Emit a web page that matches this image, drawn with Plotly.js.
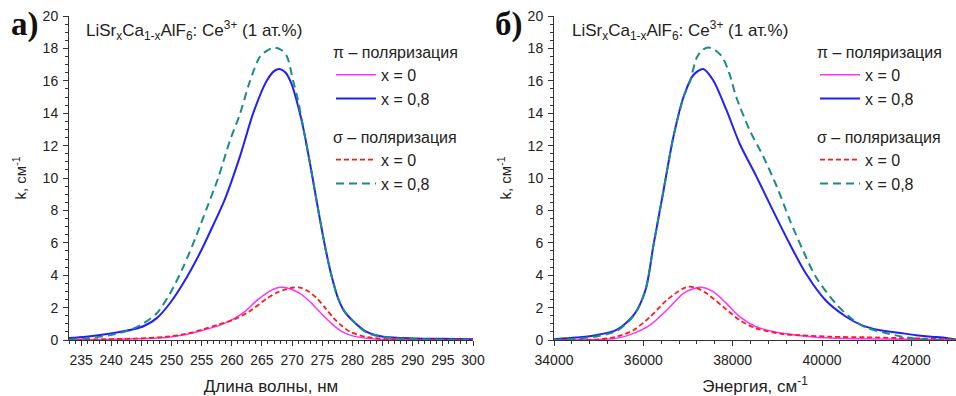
<!DOCTYPE html>
<html>
<head>
<meta charset="utf-8">
<script src="https://cdn.plot.ly/plotly-3.0.1.min.js"></script>
<style>html,body{margin:0;padding:0;background:#fff;}#chart{width:956px;height:396px;}</style>
</head>
<body>
<div id="chart"></div>
<script>
// ---- Panel a): wavelength (nm) ----
const lamPi08 = [233.0,235.85,239.92,243.69,245.52,247.56,249.80,251.94,254.69,256.93,258.86,261.41,263.55,265.79,267.01,267.93,268.94,269.86,270.88,271.90,272.92,273.73,274.54,275.56,276.58,277.60,278.62,280.45,282.39,285.13,290.63,294.91,300];
const kPi08   = [0.12,0.2,0.4,0.66,0.88,1.35,2.3,3.5,5.35,7.1,8.7,11.4,14.0,16.0,16.6,16.73,16.5,15.85,14.6,13.0,11.0,9.3,7.6,5.6,3.9,2.6,1.8,1.05,0.5,0.2,0.1,0.07,0.05];

const lamSig08 = [233.0,235.85,239.92,242.98,245.02,247.56,249.80,251.94,254.18,255.81,257.74,259.68,261.31,262.94,264.67,265.99,267.16,268.23,269.15,270.17,270.98,271.90,272.92,273.73,274.54,275.56,276.58,277.60,278.62,280.45,282.39,285.13,289.82,294.91,300];
const kSig08   = [0.0,0.1,0.3,0.6,0.95,1.65,2.9,4.5,6.5,8.1,10.0,12.3,13.9,15.9,17.5,17.9,18.05,17.9,17.5,16.0,14.8,13.0,11.0,9.3,7.6,5.6,3.9,2.6,1.8,1.05,0.45,0.18,0.06,0.02,0.0];

const lamPi0 = [233.0,238.91,244.00,249.09,252.14,255.20,258.25,260.29,262.33,264.16,265.79,267.21,268.44,269.76,271.29,272.71,274.04,275.46,276.89,278.11,279.64,282.39,285.75,300];
const kPi0   = [0.0,0.03,0.07,0.16,0.32,0.6,0.95,1.3,1.8,2.45,2.9,3.18,3.25,3.15,2.88,2.45,1.95,1.4,0.9,0.55,0.3,0.1,0.03,0.0];

const lamSig0 = [233.0,238.91,244.00,249.09,252.14,255.20,257.74,260.29,262.84,265.79,267.42,268.94,270.27,271.49,272.71,274.04,275.56,276.89,278.32,279.64,282.39,285.75,289.82,300];
const kSig0   = [0.02,0.05,0.09,0.2,0.36,0.65,0.95,1.25,1.75,2.55,2.92,3.12,3.24,3.22,3.0,2.6,1.95,1.35,0.85,0.5,0.18,0.06,0.03,0.02];

// ---- Panel б): energy (cm^-1) ----
const ePi08 = [34000,34500,34900,35400,35800,36050,36230,36450,36670,36900,37120,37340,37560,37860,38160,38530,38900,39270,39640,40080,40530,40900,41300,41710,42100,42450,42700,43000];
const kEPi08 = [0.05,0.15,0.28,0.62,1.6,3.1,5.9,9.2,12.5,15.0,16.36,16.73,16.05,14.2,12.1,10.1,8.0,5.97,4.1,2.45,1.45,0.9,0.6,0.45,0.3,0.2,0.15,0.02];

const eSig08 = [34000,34500,34900,35400,35800,36050,36230,36450,36670,36900,37050,37190,37320,37460,37600,37760,37920,38080,38380,38690,38990,39280,39570,39860,40300,40700,41000,41400,41800,42100,42500,43000];
const kESig08 = [0.0,0.08,0.2,0.55,1.55,3.1,5.9,9.2,12.5,15.0,16.0,17.4,17.9,18.05,17.9,17.5,16.5,15.0,12.96,11.3,9.46,7.4,5.56,3.9,2.27,1.23,0.75,0.45,0.2,0.08,0.02,0.0];

const ePi0 = [34000,35000,35400,35784,36156,36527,36896,37100,37300,37562,37860,38156,38527,39118,39860,40750,42000,43000];
const kEPi0 = [0.0,0.03,0.1,0.41,0.93,1.85,2.88,3.15,3.25,2.98,2.26,1.44,0.82,0.41,0.17,0.08,0.04,0.02];

const eSig0 = [34000,35000,35400,35784,36156,36527,36896,37044,37200,37416,37784,38156,38527,39118,39489,40200,40971,41711,43000];
const kESig0 = [0.0,0.04,0.2,0.62,1.44,2.47,3.19,3.29,3.2,2.88,2.06,1.23,0.72,0.37,0.3,0.2,0.17,0.12,0.05];

const seriesNames = ['x = 0', 'x = 0,8'];
const legendTitles = ['π – поляризация', 'σ – поляризация'];
const panelLabels = ['а)', 'б)'];
const sampleTitle = 'LiSr<sub>x</sub>Ca<sub>1-x</sub>AlF<sub>6</sub>: Ce<sup>3+</sup> (1 ат.%)';
const xTitles = ['Длина волны, нм', 'Энергия, см<sup>-1</sup>'];
const yTitle = 'k, см<sup>-1</sup>';

const W = 956, H = 396;
const FONT = 'Liberation Sans, Arial, sans-serif';
const cMag = '#ff33ff', cBlue = '#1f1fff', cRed = '#ff1a1a', cTeal = '#1a8a8a';

function tr(x, y, name, color, dash, width, xa, ya, leg) {
  return {x: x, y: y, name: name, type: 'scatter', mode: 'lines',
    line: {color: color, width: width, dash: dash, shape: 'spline', smoothing: 0.8},
    xaxis: xa, yaxis: ya, legend: leg, showlegend: true, hoverinfo: 'x+y'};
}

const data = [
  tr(lamPi0, kPi0, seriesNames[0], cMag, 'solid', 1.5, 'x', 'y', 'legend'),
  tr(lamPi08, kPi08, seriesNames[1], cBlue, 'solid', 2, 'x', 'y', 'legend'),
  tr(lamSig0, kSig0, seriesNames[0], cRed, '5px,3px', 1.8, 'x', 'y', 'legend2'),
  tr(lamSig08, kSig08, seriesNames[1], cTeal, '8px,5px', 2, 'x', 'y', 'legend2'),
  tr(ePi0, kEPi0, seriesNames[0], cMag, 'solid', 1.5, 'x2', 'y2', 'legend3'),
  tr(ePi08, kEPi08, seriesNames[1], cBlue, 'solid', 2, 'x2', 'y2', 'legend3'),
  tr(eSig0, kESig0, seriesNames[0], cRed, '5px,3px', 1.8, 'x2', 'y2', 'legend4'),
  tr(eSig08, kESig08, seriesNames[1], cTeal, '8px,5px', 2, 'x2', 'y2', 'legend4')
];

const yDom = [1 - 340/H, 1 - 16/H];
const axCommon = {showline: true, linecolor: '#333', linewidth: 1, showgrid: false, zeroline: false,
  ticks: 'outside', ticklen: 5, tickwidth: 1, tickcolor: '#333', ticklabelstandoff: 2,
  tickfont: {family: FONT, size: 14, color: '#222'}, fixedrange: true};

function yax(anchor, standoff) {
  return Object.assign({}, axCommon, {domain: yDom, anchor: anchor, range: [0, 20], dtick: 2, tick0: 0,
    minor: {ticks: 'outside', ticklen: 3, dtick: 0.5, tickcolor: '#333', tickwidth: 1},
    title: {text: yTitle, font: {family: FONT, size: 15, color: '#222'}, standoff: standoff}});
}

function legendAt(px, py, title) {
  return {x: px / W, y: 1 - py / H, xanchor: 'left', yanchor: 'top', bgcolor: 'rgba(0,0,0,0)',
    borderwidth: 0, font: {family: FONT, size: 16, color: '#222'}, tracegroupgap: 0, itemwidth: 40,
    title: {text: title, side: 'top', font: {family: FONT, size: 16, color: '#222'}}};
}

const layout = {
  width: W, height: H, margin: {l: 0, r: 0, t: 0, b: 0},
  paper_bgcolor: '#fff', plot_bgcolor: '#fff', showlegend: true,
  xaxis: Object.assign({}, axCommon, {domain: [69/W, 473/W], anchor: 'y', range: [233, 300], tick0: 235, dtick: 5,
    minor: {ticks: 'outside', ticklen: 3, dtick: 1, tickcolor: '#333', tickwidth: 1},
    title: {text: xTitles[0], font: {family: FONT, size: 17, color: '#222'}, standoff: 14}}),
  yaxis: yax('x', 12),
  xaxis2: Object.assign({}, axCommon, {domain: [554/W, 1], anchor: 'y2', range: [34000, 43000], tick0: 34000, dtick: 2000,
    tickformat: 'd',
    minor: {ticks: 'outside', ticklen: 3, dtick: 400, tickcolor: '#333', tickwidth: 1},
    title: {text: xTitles[1], font: {family: FONT, size: 17, color: '#222'}, standoff: 14}}),
  yaxis2: yax('x2', 12),
  legend: legendAt(331, 37, legendTitles[0]),
  legend2: legendAt(331, 122, legendTitles[1]),
  legend3: legendAt(815, 37, legendTitles[0]),
  legend4: legendAt(815, 122, legendTitles[1]),
  annotations: [
    {text: '<b>' + panelLabels[0] + '</b>', xref: 'paper', yref: 'paper', x: 9/W, y: 1 - 4/H, xanchor: 'left', yanchor: 'top',
      showarrow: false, font: {family: 'Liberation Serif, Times New Roman, serif', size: 33, color: '#111'}},
    {text: '<b>' + panelLabels[1] + '</b>', xref: 'paper', yref: 'paper', x: 493/W, y: 1 - 4/H, xanchor: 'left', yanchor: 'top',
      showarrow: false, font: {family: 'Liberation Serif, Times New Roman, serif', size: 33, color: '#111'}},
    {text: sampleTitle, xref: 'paper', yref: 'paper', x: 84/W, y: 1 - 16/H, xanchor: 'left', yanchor: 'top',
      showarrow: false, font: {family: FONT, size: 17, color: '#222'}},
    {text: sampleTitle, xref: 'paper', yref: 'paper', x: 570/W, y: 1 - 16/H, xanchor: 'left', yanchor: 'top',
      showarrow: false, font: {family: FONT, size: 17, color: '#222'}}
  ]
};

Plotly.newPlot('chart', data, layout, {displayModeBar: false, staticPlot: true});
</script>
</body>
</html>
